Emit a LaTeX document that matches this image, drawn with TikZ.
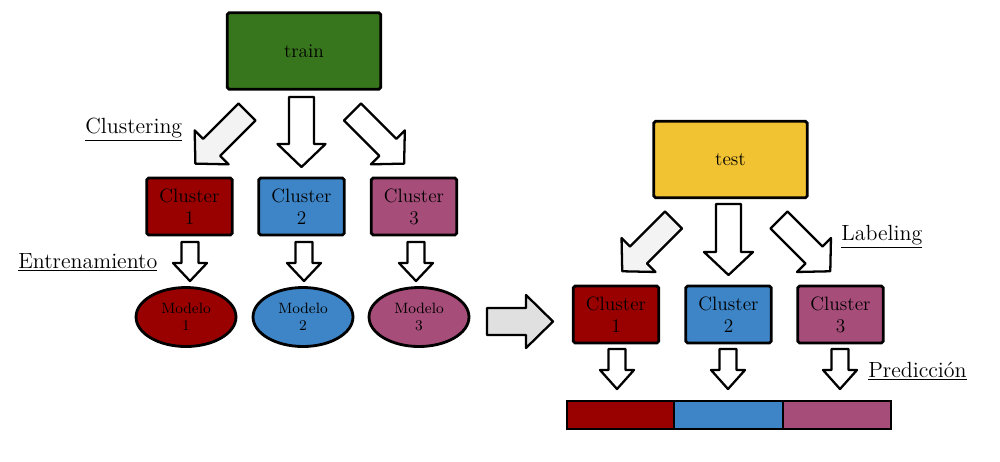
\documentclass[tikz,border=0pt]{standalone}
\usetikzlibrary{shapes.geometric}
\definecolor{cgreen}{HTML}{38761D}
\definecolor{cyellow}{HTML}{F1C232}
\definecolor{cred}{HTML}{990000}
\definecolor{cblue}{HTML}{3D85C6}
\definecolor{cmauve}{HTML}{A64D79}
\definecolor{cpale}{HTML}{F3F3F3}
\definecolor{cgray}{HTML}{E0E0E0}
\newcommand\blkarr[7]{%
  \draw[#1, shift={#2}, rotate=#3] (0,-#5) -- ({#4-#7},-#5) -- ({#4-#7},-#6) -- (#4,0)
    -- ({#4-#7},#6) -- ({#4-#7},#5) -- (0,#5) -- cycle;}
\tikzset{
  box/.style={draw=black, line width=1.6pt, rounded corners=1pt, rectangle, align=center,
    inner sep=0pt, font=\fontsize{11}{12.5}\selectfont},
  bigbox/.style={box, minimum width=3.07cm, minimum height=1.53cm},
  clbox/.style={box, minimum width=1.71cm, minimum height=1.14cm},
  model/.style={draw=black, line width=1.6pt, ellipse, align=center, inner sep=0pt,
    minimum width=2cm, minimum height=1.18cm, font=\fontsize{8.5}{10}\selectfont},
  barseg/.style={draw=black, line width=1.6pt, rectangle, inner sep=0pt, minimum height=0.56cm},
  lbl/.style={anchor=base west, inner sep=0pt, font=\fontsize{12.5}{14}\selectfont},
  barr/.style={draw=black, line width=1.3pt, line join=round, fill=white},
  barrpale/.style={barr, fill=cpale},
  barrgray/.style={barr, fill=cgray},
}
\begin{document}
\begin{tikzpicture}[x=0.02cm, y=-0.02cm]
\useasboundingbox (0,0) rectangle (1000,461);
% train side
\node[bigbox, fill=cgreen] (train) at (304,51) {train};
\node[clbox, fill=cred] (c1) at (189.5,206.5) {Cluster\\1};
\node[clbox, fill=cblue] (c2) at (301.5,206.5) {Cluster\\2};
\node[clbox, fill=cmauve] (c3) at (414,206.5) {Cluster\\3};
\node[model, fill=cred] (m1) at (186,317) {Modelo\\1};
\node[model, fill=cblue] (m2) at (303,317) {Modelo\\2};
\node[model, fill=cmauve] (m3) at (419,317) {Modelo\\3};
\node[lbl] (lclus) at (85,133) {\underline{Clustering}};
\node[lbl] (lentr) at (18,268) {\underline{Entrenamiento}};
% clustering arrows
\blkarr{barrpale}{(247,112)}{-135}{73}{12}{24}{23}
\blkarr{barr}{(301.5,97)}{-90}{70}{12.5}{24}{23}
\blkarr{barr}{(352.5,112)}{-45}{73}{12}{24}{23}
% training arrows
\blkarr{barr}{(190,242)}{-90}{39}{8.5}{17}{18}
\blkarr{barr}{(304,242)}{-90}{39}{8.5}{17}{18}
\blkarr{barr}{(416,242)}{-90}{39}{8.5}{17}{18}
% big arrow
\blkarr{barrgray}{(487,321.5)}{0}{66}{13.5}{26.5}{27}
% test side
\node[bigbox, fill=cyellow] (test) at (730.5,159.5) {test};
\node[clbox, fill=cred] (d1) at (616,314.5) {Cluster\\1};
\node[clbox, fill=cblue] (d2) at (728.5,314.5) {Cluster\\2};
\node[clbox, fill=cmauve] (d3) at (840.5,314.5) {Cluster\\3};
\node[lbl] (llab) at (841,240) {\underline{Labeling}};
\node[lbl] (lpred) at (868,377) {\underline{Predicción}};
\blkarr{barrpale}{(673.5,220)}{-135}{72.5}{12}{24}{23}
\blkarr{barr}{(728.5,204)}{-90}{71}{12.5}{24.5}{23}
\blkarr{barr}{(779,220)}{-45}{72.5}{12}{24}{23}
\blkarr{barr}{(617,349)}{-90}{40}{8.5}{17}{19}
\blkarr{barr}{(728,349)}{-90}{40}{8.5}{17}{19}
\blkarr{barr}{(840,349)}{-90}{40}{8.5}{17}{19}
% prediction bar
\node[barseg, fill=cred, minimum width=2.14cm] (b1) at (620.5,415) {};
\node[barseg, fill=cblue, minimum width=2.18cm] (b2) at (728.5,415) {};
\node[barseg, fill=cmauve, minimum width=2.16cm] (b3) at (837,415) {};
\end{tikzpicture}
\end{document}
